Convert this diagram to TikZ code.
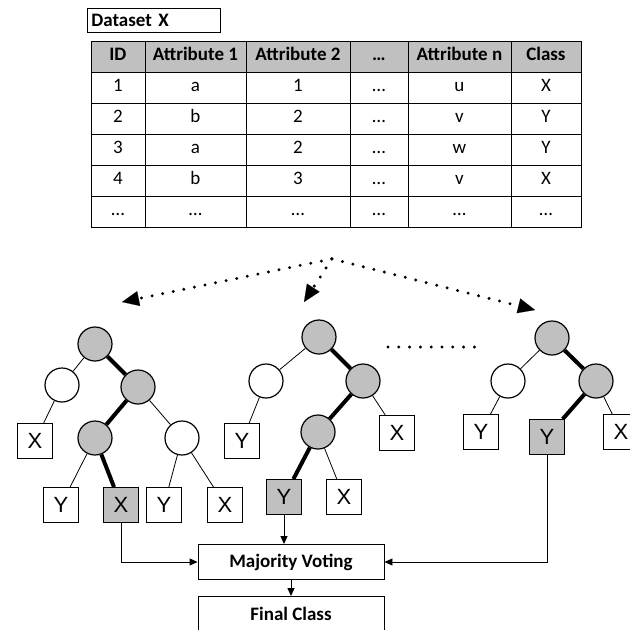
\documentclass[tikz,border=0pt]{standalone}
\usepackage{fontspec}
\usepackage{tikz}
\usetikzlibrary{shapes, arrows.meta}
\usetikzlibrary{matrix, positioning}
\newfontfamily\carlito{Carlito}
\newfontfamily\leaffont{Liberation Sans}
\newcommand\tablefont{\carlito\fontsize{19}{22}\selectfont}
\definecolor{shade}{RGB}{192,192,192}
\tikzstyle{cell} = [rectangle, minimum height = 31, inner sep = 0,
  text height = 13, text depth = 4,
  draw = black, line width = 0.8, text centered, font = \tablefont]
\tikzstyle{title} = [rectangle, minimum height = 24, text width = 125,
  inner sep = 4, draw = black, line width = 0.8, align = left,
  font = \tablefont\bfseries]
\tikzstyle{split} = [
  circle, minimum size = 34, inner sep = 0,
  draw = black, line width = 1.2, fill = white
]
\tikzstyle{used} = [split, fill = shade]
\tikzstyle{leaf} = [
  rectangle, minimum width = 35, minimum height = 35, inner sep = 0,
  draw = black, line width = 0.9, fill = white,
  font = \leaffont\fontsize{22}{24}\selectfont
]
\tikzstyle{hit} = [leaf, fill = shade]
\tikzstyle{branch} = [line width = 0.8]
\tikzstyle{taken} = [line width = 4]
\tikzstyle{vote} = [rectangle, minimum width = 186, minimum height = 35,
  draw = black, line width = 0.9, text centered, font = \tablefont\bfseries]
\tikzstyle{dots} = [dash pattern = on 0pt off 10.8pt, line cap = round,
  line width = 3.3]
\tikzstyle{spread} = [dots,
  -{Triangle[length = 17pt, width = 15pt, line width = 0.1pt]}]
\tikzstyle{feed} = [line width = 0.9, -{Triangle[length = 8pt, width = 7pt]}]

\begin{document}
\begin{tikzpicture}[node distance = 0]
      \useasboundingbox (0, 0) rectangle (630pt, -630pt);
      % dataset
      \matrix (data) [matrix of nodes, anchor = north west, nodes = {cell},
        column sep = -0.8pt, row sep = -0.8pt,
        row 1/.style = {nodes = {fill = shade, font = \tablefont\bfseries}},
        column 1/.style = {nodes = {minimum width = 54}},
        column 2/.style = {nodes = {minimum width = 101}},
        column 3/.style = {nodes = {minimum width = 104}},
        column 4/.style = {nodes = {minimum width = 58}},
        column 5/.style = {nodes = {minimum width = 103}},
        column 6/.style = {nodes = {minimum width = 70, xshift = 2}}]
        at (87pt, -37pt) {
        ID & Attribute 1 & Attribute 2 & … & Attribute n & Class \\
        1 & a & 1 & … & u & X \\
        2 & b & 2 & … & v & Y \\
        3 & a & 2 & … & w & Y \\
        4 & b & 3 & … & v & X \\
        … & … & … & … & … & … \\
      };
      \node [title, anchor = south west] (title)
        at ([yshift = 4] data.north west) {Dataset X};

      % 1-0
      \node [used] (node-1-0) at (95pt, -344pt) {};
      % 1-1
      \node [split, below of = node-1-0, xshift = -33, yshift = -41] (node-1-1-a) {};
      \node [used, below of = node-1-0, xshift = 43, yshift = -43] (node-1-1-b) {};
      % 1-2
      \node [leaf, below of = node-1-1-a, xshift = -27, yshift = -56] (leaf-1-2-a) {X};
      \node [used, below of = node-1-1-b, xshift = -43, yshift = -51] (node-1-2-b) {};
      \node [split, below of = node-1-1-b, xshift = 44, yshift = -51] (node-1-2-c) {};
      % 1-3
      \node [leaf, below of = node-1-2-b, xshift = -34, yshift = -67] (leaf-1-3-a) {Y};
      \node [hit, below of = node-1-2-b, xshift = 26, yshift = -67] (leaf-1-3-b) {X};
      \node [leaf, below of = node-1-2-c, xshift = -18, yshift = -67] (leaf-1-3-c) {Y};
      \node [leaf, below of = node-1-2-c, xshift = 43, yshift = -67] (leaf-1-3-d) {X};

      % 2-0
      \node [used, right of = node-1-0, xshift = 224, yshift = 7] (node-2-0) {};
      % 2-1
      \node [split, below of = node-2-0, xshift = -53, yshift = -44] (node-2-1-a) {};
      \node [used, below of = node-2-0, xshift = 44, yshift = -44] (node-2-1-b) {};
      % 2-2
      \node [leaf, below of = node-2-1-a, xshift = -24, yshift = -60] (leaf-2-2-a) {Y};
      \node [used, below of = node-2-1-b, xshift = -45, yshift = -51] (node-2-2-b) {};
      \node [leaf, below of = node-2-1-b, xshift = 34, yshift = -52] (leaf-2-2-c) {X};
      % 2-3
      \node [hit, below of = node-2-2-b, xshift = -34, yshift = -65] (leaf-2-3-a) {Y};
      \node [leaf, below of = node-2-2-b, xshift = 26, yshift = -65] (leaf-2-3-b) {X};

      % 3-0
      \node [used, right of = node-2-0, xshift = 233, yshift = -1] (node-3-0) {};
      % 3-1
      \node [split, below of = node-3-0, xshift = -44, yshift = -43] (node-3-1-a) {};
      \node [used, below of = node-3-0, xshift = 44, yshift = -43] (node-3-1-b) {};
      % 3-2
      \node [leaf, below of = node-3-1-a, xshift = -27, yshift = -51] (leaf-3-2-a) {Y};
      \node [hit, below of = node-3-1-b, xshift = -49, yshift = -56] (leaf-3-2-b) {Y};
      \node [leaf, below of = node-3-1-b, xshift = 25, yshift = -51] (leaf-3-2-c) {X};

      % voting
      \node [vote, below of = leaf-2-3-a, xshift = 7, yshift = -65] (voting) {Majority Voting};
      \node [vote, below of = voting, yshift = -52] (final) {Final Class};

      % sampling
      \coordinate (split-point) at ([xshift = -4, yshift = -28] data.south);
      \coordinate (to-1) at (122pt, -302pt);
      \coordinate (to-2) at (304pt, -302pt);
      \coordinate (to-3) at (535pt, -310pt);
      \coordinate (gap-a) at (388pt, -347pt);
      \coordinate (gap-b) at (477pt, -347pt);
      \draw [spread] (split-point) -- (to-1);
      \draw [spread] (split-point) -- (to-2);
      \draw [spread] (split-point) -- (to-3);
      \draw [dots] (gap-a) -- (gap-b);

      \draw [branch] (node-1-0) -- (node-1-1-a);
      \draw [taken] (node-1-0) -- (node-1-1-b);
      \draw [branch] (node-1-1-a) -- (leaf-1-2-a);
      \draw [taken] (node-1-1-b) -- (node-1-2-b);
      \draw [branch] (node-1-1-b) -- (node-1-2-c);
      \draw [branch] (node-1-2-b) -- (leaf-1-3-a);
      \draw [taken] (node-1-2-b) -- (leaf-1-3-b);
      \draw [branch] (node-1-2-c) -- (leaf-1-3-c);
      \draw [branch] (node-1-2-c) -- (leaf-1-3-d);

      \draw [branch] (node-2-0) -- (node-2-1-a);
      \draw [taken] (node-2-0) -- (node-2-1-b);
      \draw [branch] (node-2-1-a) -- (leaf-2-2-a);
      \draw [taken] (node-2-1-b) -- (node-2-2-b);
      \draw [branch] (node-2-1-b) -- (leaf-2-2-c);
      \draw [taken] (node-2-2-b) -- (leaf-2-3-a);
      \draw [branch] (node-2-2-b) -- (leaf-2-3-b);

      \draw [branch] (node-3-0) -- (node-3-1-a);
      \draw [taken] (node-3-0) -- (node-3-1-b);
      \draw [branch] (node-3-1-a) -- (leaf-3-2-a);
      \draw [taken] (node-3-1-b) -- (leaf-3-2-b);
      \draw [branch] (node-3-1-b) -- (leaf-3-2-c);

      \draw [feed] (leaf-1-3-b) |- (voting);
      \draw [feed] (leaf-2-3-a) -- (leaf-2-3-a |- voting.north);
      \draw [feed] (leaf-3-2-b) |- (voting);
      \draw [feed] (voting) -- (final);
\end{tikzpicture}
\end{document}
